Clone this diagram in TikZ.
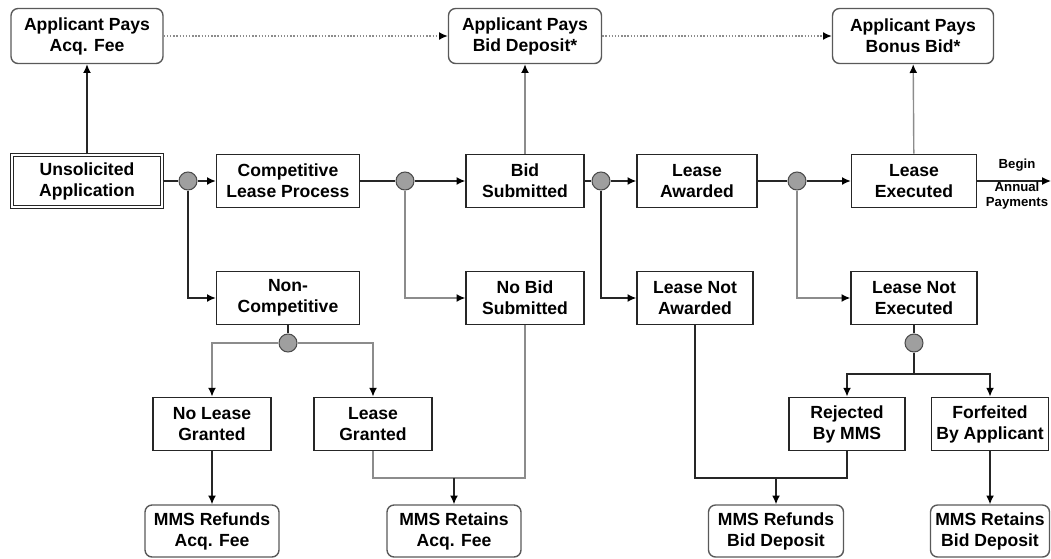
\documentclass[tikz,border=0pt]{standalone}
\usepackage{fontspec}
\setmainfont{Liberation Sans}
\usepackage{tikz}
\usetikzlibrary{arrows.meta}

\begin{document}
\begin{tikzpicture}[x=0.02cm,y=-0.02cm,
    box/.style={draw=black!85,line width=0.8pt,align=center,inner sep=1pt,
      minimum height=1.07cm,font=\bfseries\fontsize{10}{12}\selectfont},
    paybox/.style={box,draw=gray!70!black,rounded corners=4pt,minimum height=1.1cm},
    dot/.style={circle,draw=black!70,line width=0.6pt,fill=gray!75,minimum size=0.36cm,inner sep=0pt},
    conn/.style={line width=0.8pt,draw=black!85},
    connlt/.style={line width=0.8pt,draw=gray!90},
    tip/.style={-{Latex[length=5pt,width=4.5pt,color=black]}},
    small/.style={font=\bfseries\fontsize{7.5}{8.5}\selectfont,align=center,inner sep=0pt}]
    \useasboundingbox (0,0) rectangle (1051,558);

    % Payments
    \node[paybox,minimum width=3.04cm] (acqfee) at (87,36) {Applicant Pays\\Acq. Fee};
    \node[paybox,minimum width=3.06cm] (biddep) at (525,36) {Applicant Pays\\Bid Deposit*};
    \node[paybox,minimum width=3.22cm] (bonus) at (913,36) {Applicant Pays\\Bonus Bid*};

    % Main process
    \node[box,double,double distance=1.2pt,minimum width=3.0cm,minimum height=1.04cm] (unsol) at (87,181) {Unsolicited\\Application};
    \node[box,minimum width=2.86cm] (complp) at (288,181) {Competitive\\Lease Process};
    \node[box,minimum width=2.36cm] (bidsub) at (525,181) {Bid\\Submitted};
    \node[box,minimum width=2.40cm] (awarded) at (697,181) {Lease\\Awarded};
    \node[box,minimum width=2.50cm] (executed) at (914,181) {Lease\\Executed};

    % Alternatives
    \node[box,minimum width=2.86cm] (noncomp) at (288,298) {Non-\\Competitive};
    \node[box,minimum width=2.36cm] (nobid) at (525,298) {No Bid\\Submitted};
    \node[box,minimum width=2.32cm] (notaw) at (695,298) {Lease Not\\Awarded};
    \node[box,minimum width=2.52cm] (notex) at (914,298) {Lease Not\\Executed};

    \node[box,minimum width=2.36cm] (nolease) at (212,424) {No Lease\\Granted};
    \node[box,minimum width=2.36cm] (leasegr) at (373,424) {Lease\\Granted};
    \node[box,minimum width=2.32cm] (rejected) at (847,424) {Rejected\\By MMS};
    \node[box,minimum width=2.34cm] (forfeit) at (990,424) {Forfeited\\By Applicant};

    % Outcomes
    \node[paybox,minimum width=2.68cm,minimum height=1.04cm] (refacq) at (212,531) {MMS Refunds\\Acq. Fee};
    \node[paybox,minimum width=2.68cm,minimum height=1.04cm] (retacq) at (454,531) {MMS Retains\\Acq. Fee};
    \node[paybox,minimum width=2.70cm,minimum height=1.04cm] (refbid) at (776,531) {MMS Refunds\\Bid Deposit};
    \node[paybox,minimum width=2.38cm,minimum height=1.04cm] (retbid) at (990,531) {MMS Retains\\Bid Deposit};

    % Decision points
    \node[dot] (c1) at (188,181) {};
    \node[dot] (c2) at (405,181) {};
    \node[dot] (c3) at (601,181) {};
    \node[dot] (c4) at (797,181) {};
    \node[dot] (c5) at (288,343) {};
    \node[dot] (c6) at (914,343) {};
    \coordinate (split) at (914,374);
    \coordinate (joinacq) at (454,478);
    \coordinate (joinbid) at (776,478);
    \coordinate (payend) at (1051,181);

    % Main flow
    \draw[conn] (unsol) -- (c1);
    \draw[conn,tip] (c1) -- (complp);
    \draw[conn] (complp) -- (c2);
    \draw[conn,tip] (c2) -- (bidsub);
    \draw[conn] (bidsub) -- (c3);
    \draw[conn,tip] (c3) -- (awarded);
    \draw[conn] (awarded) -- (c4);
    \draw[conn,tip] (c4) -- (executed);
    \draw[conn,tip] (executed) -- (payend);
    \node[small] (begin) at (1017,165) {Begin};
    \node[small] (annual) at (1017,196) {Annual\\Payments};

    % Payments made
    \draw[conn,tip] (unsol) -- (acqfee);
    \draw[connlt,tip] (bidsub) -- (biddep);
    \draw[connlt,tip] (executed) -- (bonus);
    \draw[connlt,densely dotted,tip] (acqfee) -- (biddep);
    \draw[connlt,densely dotted,tip] (biddep) -- (bonus);

    % Branches
    \draw[conn,tip] (c1) |- (noncomp);
    \draw[connlt,tip] (c2) |- (nobid);
    \draw[conn,tip] (c3) |- (notaw);
    \draw[connlt,tip] (c4) |- (notex);

    \draw[conn] (noncomp) -- (c5);
    \draw[connlt,tip] (c5) -| (nolease);
    \draw[connlt,tip] (c5) -| (leasegr);
    \draw[conn] (notex) -- (c6);
    \draw[conn] (c6) -- (split);
    \draw[conn,tip] (split) -| (rejected);
    \draw[conn,tip] (split) -| (forfeit);

    % Refunds and retains
    \draw[conn,tip] (nolease) -- (refacq);
    \draw[connlt] (leasegr.south) |- (joinacq) -| (nobid.south);
    \draw[conn,tip] (joinacq) -- (retacq);
    \draw[conn] (notaw.south) |- (joinbid) -| (rejected.south);
    \draw[conn,tip] (joinbid) -- (refbid);
    \draw[conn,tip] (forfeit) -- (retbid);
\end{tikzpicture}
\end{document}
